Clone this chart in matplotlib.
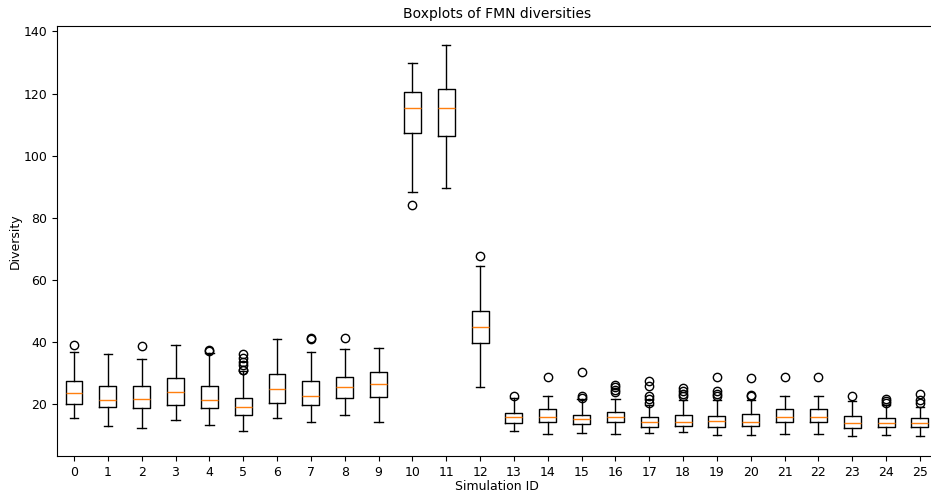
import matplotlib
matplotlib.use("Agg")
import matplotlib.pyplot as plt

sim_ids = [str(i) for i in range(26)]
medians = [23.4, 21.1, 21.5, 23.8, 21.3, 18.9, 24.7, 22.4, 25.3, 26.4,
           115.2, 115.4, 44.7, 15.7, 15.9, 15.2, 15.7, 14.3, 14.3, 14.6,
           14.3, 15.9, 15.9, 13.8, 14.0, 13.8]
q1 = [19.9, 19.1, 18.8, 19.6, 18.6, 16.5, 20.4, 19.6, 22.0, 22.3,
      107.3, 106.2, 39.5, 13.8, 14.1, 13.5, 14.3, 12.7, 12.9, 12.7,
      12.9, 14.1, 14.1, 12.2, 12.5, 12.7]
q3 = [27.4, 25.8, 25.8, 28.2, 25.8, 22.0, 29.6, 27.4, 28.8, 30.2,
      120.4, 121.6, 49.8, 17.2, 18.4, 16.5, 17.5, 15.9, 16.5, 16.2,
      16.7, 18.4, 18.4, 16.2, 15.4, 15.4]
whisker_low = [15.4, 13.0, 12.1, 14.8, 13.2, 11.4, 15.4, 14.3, 16.5, 14.3,
               88.3, 89.4, 25.4, 11.4, 10.3, 10.5, 10.3, 10.5, 11.1, 10.0,
               10.0, 10.3, 10.3, 9.8, 10.0, 9.5]
whisker_high = [36.7, 36.0, 34.6, 39.0, 36.3, 30.6, 40.9, 36.7, 37.6, 38.0,
                129.7, 135.6, 64.3, 21.9, 22.6, 21.5, 21.6, 19.6, 21.3, 21.3,
                21.3, 22.6, 22.6, 21.0, 19.6, 18.9]
outliers = [
    [39.0], [], [38.5], [], [37.2, 37.0],
    [36.1, 34.7, 33.5, 32.4, 31.0, 30.8], [], [41.2, 40.9], [41.2], [],
    [84.0], [], [67.5], [22.4], [28.5],
    [30.4, 22.4, 21.8], [26.1, 25.3, 24.5, 23.8], [27.4, 25.8, 22.7, 21.6, 20.4],
    [25.1, 24.3, 23.2, 22.4], [28.5, 24.3, 23.1, 22.4],
    [28.3, 22.9, 22.4], [28.5], [28.5], [22.6],
    [21.6, 21.0, 20.2], [23.2, 21.3, 20.2],
]

stats = []
for i in range(len(sim_ids)):
    stats.append(dict(med=medians[i], q1=q1[i], q3=q3[i],
                      whislo=whisker_low[i], whishi=whisker_high[i],
                      fliers=outliers[i], label=sim_ids[i]))

fig = plt.figure(figsize=(9.31, 4.98), dpi=100)
ax = fig.add_axes([0.0613, 0.0843, 0.945, 0.8625])
ax.bxp(stats, positions=range(len(sim_ids)), widths=0.5)
ax.set_xticks(range(len(sim_ids)))
ax.set_xticklabels(sim_ids)
ax.set_title("Boxplots of FMN diversities", fontsize=10)
ax.set_xlabel("Simulation ID", fontsize=9, labelpad=1)
ax.set_ylabel("Diversity", fontsize=9, labelpad=1)
ax.tick_params(labelsize=9)
ax.set_xlim(-0.5, 25.5)
ax.set_ylim(3.2, 141.6)
fig.savefig("out.png", dpi=100)
